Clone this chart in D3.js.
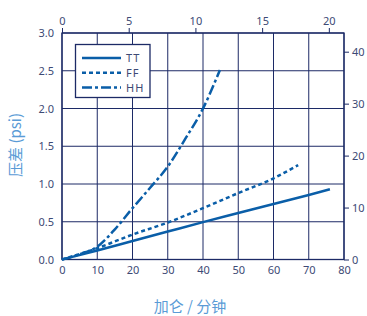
<!DOCTYPE html>
<html><head><meta charset="utf-8">
<script src="https://cdn.jsdelivr.net/npm/d3@7"></script>
<style>body{margin:0;background:#fff;}svg{display:block;}</style>
</head><body><svg id="c" width="367" height="316"></svg>
<script>
const flowTT = [0,10,20,30,40,50,60,70,76];
const dpTT   = [0,0.12,0.245,0.37,0.495,0.615,0.735,0.855,0.93];
const flowFF = [0,10,20,30,40,50,60,67];
const dpFF   = [0,0.15,0.33,0.49,0.68,0.88,1.075,1.25];
const flowHH = [0,5,10,15,20,25,30,35,40,44.8];
const dpHH   = [0,0.07,0.17,0.40,0.68,0.95,1.23,1.60,2.0,2.51];
const seriesNames = ["TT","FF","HH"];
const bottomTicks = [0,10,20,30,40,50,60,70,80];
const leftTicks = [0,0.5,1.0,1.5,2.0,2.5,3.0];
const topTicks = [0,5,10,15,20];
const rightTicks = [0,10,20,30,40];
const xTitle = "加仑 / 分钟";
const yTitle = "压差 (psi)";

const L=62,R=344,T=33,B=259.5;
const navy="#1c2a66", tickCol="#3d4a75", lineCol="#0a5ea8", titleCol="#5a9bd6";
const svg=d3.select("#c");
const x=d3.scaleLinear().domain([0,80]).range([L,R]);
const y=d3.scaleLinear().domain([0,3]).range([B,T]);
const xTop=d3.scaleLinear().domain([0,80/3.785]).range([L,R]);
const yRight=d3.scaleLinear().domain([0,43.6]).range([B,T]);

const g=svg.append("g");
g.selectAll(".vg").data(bottomTicks).enter().append("line")
 .attr("x1",d=>x(d)).attr("x2",d=>x(d)).attr("y1",T).attr("y2",B)
 .attr("stroke",navy).attr("stroke-width",1);
g.selectAll(".hg").data(leftTicks).enter().append("line")
 .attr("x1",L).attr("x2",R).attr("y1",d=>y(d)).attr("y2",d=>y(d))
 .attr("stroke",navy).attr("stroke-width",1);
g.append("rect").attr("x",L).attr("y",T).attr("width",R-L).attr("height",B-T)
 .attr("fill","none").attr("stroke",navy).attr("stroke-width",1.3);

const font="'Noto Sans','Open Sans',sans-serif";
svg.append("g").attr("transform",`translate(0,${B})`)
 .call(d3.axisBottom(x).tickValues(bottomTicks).tickSize(0).tickPadding(7).tickFormat(d3.format("d")))
 .call(a=>{a.select(".domain").remove();a.selectAll("text").attr("fill",tickCol).style("font-size","11px").style("font-family",font);});
svg.append("g").attr("transform",`translate(${L},0)`)
 .call(d3.axisLeft(y).tickValues(leftTicks).tickSize(0).tickPadding(8).tickFormat(d3.format(".1f")))
 .call(a=>{a.select(".domain").remove();a.selectAll("text").attr("fill",tickCol).style("font-size","11px").style("font-family",font);});
svg.append("g").attr("transform",`translate(0,${T})`)
 .call(d3.axisTop(xTop).tickValues(topTicks).tickSize(5).tickPadding(3).tickFormat(d3.format("d")))
 .call(a=>{a.select(".domain").remove();a.selectAll("line").attr("stroke",navy);a.selectAll("text").attr("fill",tickCol).style("font-size","11px").style("font-family",font);});
svg.append("g").attr("transform",`translate(${R},0)`)
 .call(d3.axisRight(yRight).tickValues(rightTicks).tickSize(5).tickPadding(3).tickFormat(d3.format("d")))
 .call(a=>{a.select(".domain").remove();a.selectAll("line").attr("stroke",navy);a.selectAll("text").attr("fill",tickCol).style("font-size","11px").style("font-family",font);});

const line=d3.line().x(d=>x(d[0])).y(d=>y(d[1])).curve(d3.curveMonotoneX);
const series=[
 {name:seriesNames[0],pts:d3.zip(flowTT,dpTT),dash:null},
 {name:seriesNames[1],pts:d3.zip(flowFF,dpFF),dash:"4,3"},
 {name:seriesNames[2],pts:d3.zip(flowHH,dpHH),dash:"10,3,3,3"}
];
series.forEach(s=>{
 svg.append("path").attr("d",line(s.pts)).attr("fill","none").attr("stroke",lineCol)
  .attr("stroke-width",2.5).attr("stroke-dasharray",s.dash);
});

const lg=svg.append("g");
lg.append("rect").attr("x",75.5).attr("y",44.5).attr("width",74.5).attr("height",53)
 .attr("fill","#fff").attr("stroke",navy).attr("stroke-width",1.3);
series.forEach((s,i)=>{
 const yy=58+i*14.8;
 lg.append("line").attr("x1",82).attr("x2",121).attr("y1",yy).attr("y2",yy)
  .attr("stroke",lineCol).attr("stroke-width",2.5).attr("stroke-dasharray",s.dash);
 lg.append("text").attr("x",126).attr("y",yy+4).text(s.name)
  .attr("fill",tickCol).style("font-size","11px").style("font-family",font).style("letter-spacing","1px");
});

svg.append("text").attr("x",190).attr("y",312).attr("text-anchor","middle").text(xTitle)
 .attr("fill",titleCol).style("font-size","15px").style("font-family","'Noto Sans CJK SC',sans-serif");
svg.append("text").attr("transform","translate(21,145) rotate(-90)").attr("text-anchor","middle").text(yTitle)
 .attr("fill",titleCol).style("font-size","15px").style("font-family","'Noto Sans CJK SC',sans-serif");
</script></body></html>
